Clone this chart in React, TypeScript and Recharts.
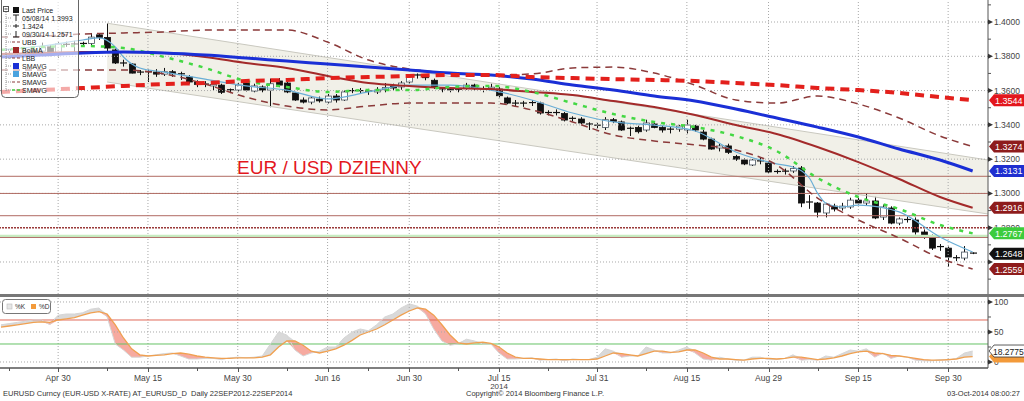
import React from 'react';
import { ComposedChart, Bar, Line, Area, XAxis, YAxis, ReferenceLine } from 'recharts';

// daily candles, index 0 = 21 Apr 2014 ... 119 = 03 Oct 2014
const opens = [
  1.3800, 1.3795, 1.3810, 1.3815, 1.3830, 1.3830, 1.3855, 1.3810, 1.3870, 1.3868,
  1.3872, 1.3875, 1.3925, 1.3910, 1.3837, 1.3761, 1.3755, 1.3702, 1.3710, 1.3708,
  1.3696, 1.3710, 1.3698, 1.3679, 1.3650, 1.3636, 1.3627, 1.3632, 1.3597, 1.3603,
  1.3644, 1.3597, 1.3621, 1.3603, 1.3656, 1.3644, 1.3586, 1.3545, 1.3533, 1.3550,
  1.3533, 1.3568, 1.3545, 1.3592, 1.3600, 1.3597, 1.3592, 1.3605, 1.3627, 1.3621,
  1.3650, 1.3691, 1.3685, 1.3660, 1.3610, 1.3603, 1.3605, 1.3615, 1.3632, 1.3610,
  1.3610, 1.3609, 1.3557, 1.3527, 1.3525, 1.3527, 1.3527, 1.3469, 1.3472, 1.3466,
  1.3430, 1.3434, 1.3405, 1.3398, 1.3385, 1.3430, 1.3417, 1.3372, 1.3385, 1.3370,
  1.3405, 1.3385, 1.3370, 1.3375, 1.3370, 1.3393, 1.3358, 1.3317, 1.3265, 1.3277,
  1.3215, 1.3195, 1.3166, 1.3190, 1.3177, 1.3125, 1.3128, 1.3131, 1.3148, 1.2944,
  1.2944, 1.2886, 1.2926, 1.2915, 1.2921, 1.2961, 1.2944, 1.2956, 1.2862, 1.2915,
  1.2827, 1.2845, 1.2845, 1.2775, 1.2746, 1.2687, 1.2681, 1.2625, 1.2623, 1.2652,
];
const highs = [
  1.3810, 1.3830, 1.3830, 1.3850, 1.3845, 1.3880, 1.3865, 1.3885, 1.3885, 1.3890,
  1.3885, 1.3936, 1.3935, 1.3993, 1.3845, 1.3780, 1.3760, 1.3720, 1.3722, 1.3725,
  1.3732, 1.3720, 1.3710, 1.3690, 1.3660, 1.3655, 1.3645, 1.3640, 1.3612, 1.3645,
  1.3650, 1.3640, 1.3630, 1.3670, 1.3673, 1.3650, 1.3590, 1.3560, 1.3565, 1.3565,
  1.3580, 1.3580, 1.3600, 1.3615, 1.3615, 1.3610, 1.3620, 1.3644, 1.3640, 1.3655,
  1.3695, 1.3700, 1.3695, 1.3670, 1.3615, 1.3620, 1.3630, 1.3645, 1.3640, 1.3625,
  1.3640, 1.3620, 1.3565, 1.3545, 1.3540, 1.3545, 1.3535, 1.3485, 1.3490, 1.3475,
  1.3450, 1.3445, 1.3415, 1.3410, 1.3445, 1.3440, 1.3425, 1.3390, 1.3395, 1.3430,
  1.3415, 1.3395, 1.3390, 1.3400, 1.3430, 1.3400, 1.3370, 1.3325, 1.3290, 1.3290,
  1.3225, 1.3205, 1.3200, 1.3210, 1.3185, 1.3140, 1.3145, 1.3160, 1.3160, 1.2990,
  1.2950, 1.2945, 1.2940, 1.2945, 1.2975, 1.2975, 1.3002, 1.2980, 1.2935, 1.2925,
  1.2860, 1.2865, 1.2860, 1.2790, 1.2760, 1.2705, 1.2690, 1.2640, 1.2693, 1.2656,
];
const lows = [
  1.3780, 1.3785, 1.3790, 1.3800, 1.3810, 1.3815, 1.3800, 1.3790, 1.3855, 1.3820,
  1.3855, 1.3865, 1.3895, 1.3830, 1.3755, 1.3740, 1.3700, 1.3690, 1.3650, 1.3680,
  1.3685, 1.3680, 1.3662, 1.3640, 1.3620, 1.3620, 1.3603, 1.3580, 1.3585, 1.3595,
  1.3595, 1.3590, 1.3590, 1.3503, 1.3620, 1.3585, 1.3540, 1.3525, 1.3520, 1.3530,
  1.3525, 1.3530, 1.3540, 1.3585, 1.3580, 1.3575, 1.3580, 1.3590, 1.3600, 1.3605,
  1.3640, 1.3670, 1.3660, 1.3610, 1.3590, 1.3590, 1.3590, 1.3605, 1.3600, 1.3590,
  1.3600, 1.3560, 1.3520, 1.3505, 1.3505, 1.3510, 1.3460, 1.3455, 1.3455, 1.3420,
  1.3420, 1.3405, 1.3370, 1.3380, 1.3370, 1.3410, 1.3365, 1.3335, 1.3350, 1.3360,
  1.3380, 1.3355, 1.3350, 1.3360, 1.3350, 1.3360, 1.3310, 1.3255, 1.3245, 1.3230,
  1.3190, 1.3165, 1.3160, 1.3170, 1.3120, 1.3115, 1.3110, 1.3120, 1.2920, 1.2910,
  1.2860, 1.2860, 1.2895, 1.2900, 1.2910, 1.2935, 1.2930, 1.2850, 1.2845, 1.2820,
  1.2815, 1.2830, 1.2760, 1.2735, 1.2670, 1.2665, 1.2571, 1.2605, 1.2610, 1.2646,
];
const closes = [
  1.3795, 1.3810, 1.3815, 1.3830, 1.3830, 1.3855, 1.3810, 1.3872, 1.3868, 1.3872,
  1.3875, 1.3912, 1.3910, 1.3848, 1.3761, 1.3758, 1.3702, 1.3708, 1.3708, 1.3696,
  1.3710, 1.3698, 1.3690, 1.3650, 1.3636, 1.3638, 1.3636, 1.3590, 1.3605, 1.3632,
  1.3603, 1.3627, 1.3603, 1.3640, 1.3632, 1.3592, 1.3545, 1.3533, 1.3557, 1.3540,
  1.3568, 1.3545, 1.3592, 1.3600, 1.3597, 1.3592, 1.3603, 1.3618, 1.3615, 1.3644,
  1.3691, 1.3685, 1.3675, 1.3621, 1.3603, 1.3605, 1.3608, 1.3632, 1.3615, 1.3610,
  1.3620, 1.3570, 1.3527, 1.3525, 1.3527, 1.3530, 1.3469, 1.3472, 1.3468, 1.3428,
  1.3438, 1.3411, 1.3398, 1.3392, 1.3430, 1.3420, 1.3370, 1.3380, 1.3360, 1.3411,
  1.3385, 1.3370, 1.3375, 1.3393, 1.3399, 1.3370, 1.3317, 1.3259, 1.3277, 1.3240,
  1.3200, 1.3172, 1.3195, 1.3183, 1.3125, 1.3128, 1.3130, 1.3145, 1.2944, 1.2950,
  1.2891, 1.2938, 1.2909, 1.2926, 1.2961, 1.2944, 1.2956, 1.2857, 1.2921, 1.2827,
  1.2851, 1.2848, 1.2775, 1.2746, 1.2681, 1.2690, 1.2629, 1.2623, 1.2658, 1.2648,
];

// studies, read as [day index, value]
const smavg200: [number, number][] = [
  [0, 1.3592], [5, 1.3603], [10, 1.3615], [15, 1.3627], [20, 1.3638], [25, 1.3644], [30, 1.3656],
  [35, 1.3662], [40, 1.3673], [45, 1.3679], [50, 1.3685], [55, 1.3691], [60, 1.3691], [65, 1.3679],
  [70, 1.3673], [75, 1.3667], [80, 1.3662], [85, 1.3656], [90, 1.3644], [95, 1.3632], [100, 1.3615],
  [105, 1.3603], [110, 1.3586], [115, 1.3562], [119, 1.3544],
];
const smavg100: [number, number][] = [
  [0, 1.3796], [5, 1.3807], [10, 1.3819], [15, 1.3825], [20, 1.3819], [25, 1.3807], [30, 1.3790],
  [35, 1.3772], [40, 1.3755], [45, 1.3737], [50, 1.3720], [55, 1.3702], [60, 1.3691], [65, 1.3667],
  [70, 1.3632], [75, 1.3603], [80, 1.3568], [85, 1.3539], [90, 1.3492], [95, 1.3440], [100, 1.3387],
  [105, 1.3329], [110, 1.3259], [115, 1.3195], [119, 1.3131],
];
const bolMA: [number, number][] = [
  [0, 1.3813], [5, 1.3819], [10, 1.3825], [15, 1.3825], [20, 1.3819], [25, 1.3796], [30, 1.3761],
  [35, 1.3732], [40, 1.3685], [45, 1.3644], [50, 1.3627], [55, 1.3615], [60, 1.3609], [65, 1.3592],
  [70, 1.3574], [75, 1.3539], [80, 1.3504], [85, 1.3457], [90, 1.3399], [95, 1.3347], [100, 1.3271],
  [105, 1.3183], [110, 1.3084], [115, 1.2979], [119, 1.2916],
];
const upperBand: [number, number][] = [
  [0, 1.3912], [5, 1.3918], [10, 1.3930], [15, 1.3936], [20, 1.3942], [25, 1.3953], [30, 1.3953],
  [35, 1.3953], [40, 1.3883], [45, 1.3778], [50, 1.3726], [55, 1.3702], [60, 1.3691], [65, 1.3697],
  [70, 1.3732], [75, 1.3737], [80, 1.3702], [85, 1.3632], [90, 1.3545], [95, 1.3527], [100, 1.3568],
  [105, 1.3522], [110, 1.3440], [115, 1.3335], [119, 1.3274],
];
const lowerBand: [number, number][] = [
  [0, 1.3720], [5, 1.3720], [10, 1.3720], [15, 1.3720], [20, 1.3697], [25, 1.3638], [30, 1.3562],
  [35, 1.3510], [40, 1.3487], [45, 1.3510], [50, 1.3527], [55, 1.3527], [60, 1.3527], [65, 1.3487],
  [70, 1.3417], [75, 1.3341], [80, 1.3306], [85, 1.3283], [90, 1.3253], [95, 1.3166], [100, 1.2973],
  [105, 1.2845], [110, 1.2740], [115, 1.2623], [119, 1.2559],
];
const smavgGreen: [number, number][] = [
  [0, 1.3837], [5, 1.3854], [10, 1.3860], [15, 1.3848], [20, 1.3796], [25, 1.3732], [30, 1.3656],
  [35, 1.3621], [40, 1.3592], [45, 1.3603], [50, 1.3603], [55, 1.3621], [60, 1.3627], [65, 1.3592],
  [70, 1.3527], [75, 1.3463], [80, 1.3417], [85, 1.3387], [90, 1.3335], [95, 1.3247], [100, 1.3090],
  [105, 1.2979], [110, 1.2909], [115, 1.2816], [119, 1.2767],
];
const smavgFast: [number, number][] = [
  [0, 1.3837], [5, 1.3860], [10, 1.3895], [12, 1.3907], [14, 1.3854], [15, 1.3796], [17, 1.3732],
  [20, 1.3708], [25, 1.3667], [30, 1.3627], [35, 1.3603], [40, 1.3551], [45, 1.3592], [50, 1.3632],
  [55, 1.3632], [60, 1.3603], [65, 1.3545], [70, 1.3469], [75, 1.3417], [80, 1.3399], [85, 1.3364],
  [90, 1.3242], [95, 1.3172], [97, 1.3154], [99, 1.3090], [100, 1.3002], [101, 1.2944], [103, 1.2921],
  [105, 1.2932], [110, 1.2892], [115, 1.2746], [119, 1.2658],
];

// trend channel drawn from the 8 May high
const channelTop: [number, number][] = [[13, 1.3993], [120.88, 1.3195]];
const channelBottom: [number, number][] = [[13, 1.3650], [120.88, 1.2880]];

const hLevels = [1.3100, 1.3000, 1.2870];
const dottedLevel = 1.2800;
const greenLevel = 1.2750;

// stochastic %K / %D
const stochK = [
  62, 64, 66, 68, 70, 70, 62, 78, 80, 80, 82, 88, 90, 75, 30, 20, 8, 8, 10, 12,
  14, 15, 10, 5, 5, 6, 6, 4, 7, 8, 7, 8, 10, 30, 50, 45, 20, 10, 15, 18,
  25, 25, 40, 50, 55, 52, 62, 75, 80, 90, 97, 93, 80, 55, 35, 28, 30, 38, 35, 30,
  30, 15, 5, 5, 6, 7, 3, 4, 5, 2, 5, 4, 4, 8, 22, 18, 8, 10, 10, 25,
  20, 15, 15, 20, 25, 15, 5, 3, 8, 5, 3, 3, 8, 8, 4, 4, 6, 12, 3, 4,
  3, 10, 8, 14, 20, 18, 22, 8, 15, 6, 10, 8, 3, 2, 2, 4, 3, 6, 15, 18.2775,
];
const stochD = [
  58, 60, 62, 64, 66, 67, 66, 70, 72, 74, 78, 82, 84, 80, 62, 40, 22, 12, 10, 11,
  12, 14, 15, 13, 10, 8, 7, 6, 6, 7, 7, 7, 8, 12, 25, 35, 35, 28, 18, 15,
  18, 22, 28, 36, 45, 50, 55, 62, 70, 78, 85, 90, 88, 78, 62, 45, 32, 30, 32, 33,
  31, 25, 15, 8, 6, 6, 5, 4, 4, 4, 4, 4, 4, 5, 10, 15, 14, 12, 10, 14,
  18, 18, 16, 17, 20, 20, 15, 8, 5, 5, 4, 3, 5, 6, 6, 5, 6, 8, 8, 6,
  4, 5, 7, 10, 14, 17, 18, 15, 14, 11, 10, 8, 6, 4, 3, 3, 4, 5, 8, 9,
];

const dateTicks = [7, 18, 29, 40, 50, 61, 73, 84, 94, 105, 116];
const dateLabels = ['Apr 30', 'May 15', 'May 30', 'Jun 16', 'Jun 30', 'Jul 15', 'Jul 31', 'Aug 15', 'Aug 29', 'Sep 15', 'Sep 30'];
const minorDateTicks = [1, 13, 24, 35, 45, 56, 67, 79, 89, 100, 111];

const priceTicks = [1.26, 1.28, 1.30, 1.32, 1.34, 1.36, 1.38, 1.40];
const minorPriceTicks = [1.25, 1.27, 1.29, 1.31, 1.33, 1.35, 1.37, 1.39, 1.41];
const lastValues = [1.3544, 1.3274, 1.3131, 1.2916, 1.2767, 1.2648, 1.2559];
const lastColors = ['#e3161d', '#8e1c1c', '#1f2fd0', '#8e1c1c', '#3ccc3c', '#111111', '#8e1c1c'];
// tick labels that sit fully under the last-value boxes
const coveredTicks = [1.26];

const stochTicks = [0, 50, 100];
const stochMinor = [25, 75];
const stochLast = [18.2775, 9];

const X_DOMAIN: [number, number] = [-0.12, 120.88];
const FONT = '"Liberation Sans", Arial, sans-serif';

type Row = { [k: string]: any };
const rows: Row[] = opens.map((o, i) => ({
  i, o, h: highs[i], l: lows[i], c: closes[i], range: [lows[i], highs[i]],
}));
rows.push({ i: 120.88 });

const attach = (key: string, pts: [number, number][]) => {
  pts.forEach(([i, v]) => {
    const r = rows.find((row) => row.i === i);
    if (r) r[key] = v;
  });
};
attach('s200', smavg200);
attach('s100', smavg100);
attach('bol', bolMA);
attach('ubb', upperBand);
attach('lbb', lowerBand);
attach('sg', smavgGreen);
attach('sf', smavgFast);
attach('chTop', channelTop);
attach('chBot', channelBottom);
rows.forEach((r) => {
  if (r.chTop != null) r.channel = [r.chBot, r.chTop];
});

const stochRows = stochK.map((k, i) => {
  const d = stochD[i];
  return { i, k, d, above: [d, Math.max(k, d)], below: [Math.min(k, d), d] };
});

const Candle = (props: any) => {
  const { x, y, width, height, payload } = props;
  if (!payload || payload.o == null) return null;
  const { o, h, l, c } = payload;
  const cx = Math.round(x + width / 2) + 0.5;
  const py = (v: number) => (h === l ? y : y + ((h - v) / (h - l)) * height);
  const top = py(Math.max(o, c));
  const bot = py(Math.min(o, c));
  const up = c >= o;
  return (
    <g>
      <line x1={cx} x2={cx} y1={y} y2={y + height} stroke="#111" strokeWidth={1} />
      {bot - top < 1.5 ? (
        <line x1={cx - 3.5} x2={cx + 3.5} y1={top} y2={top} stroke="#111" strokeWidth={1.2} />
      ) : (
        <rect
          x={cx - 3}
          y={top}
          width={6}
          height={bot - top}
          fill={up ? '#ffffff' : '#111111'}
          stroke={up ? '#4a5560' : '#111111'}
          strokeWidth={0.8}
        />
      )}
    </g>
  );
};

const boxPath = (x: number, y: number) =>
  `M${x + 1},${y} L${x + 6},${y - 6} L${x + 37},${y - 6} L${x + 37},${y + 6} L${x + 6},${y + 6} Z`;

const PriceTick = (props: any) => {
  const { x, y, payload } = props;
  const v = payload.value;
  const li = lastValues.indexOf(v);
  if (li >= 0) {
    return (
      <g>
        <path d={boxPath(x, y)} fill={lastColors[li]} />
        <text x={x + 7} y={y + 3.5} fontSize={9} fill="#fff" fontFamily={FONT}>
          {v.toFixed(4)}
        </text>
      </g>
    );
  }
  if (minorPriceTicks.includes(v)) {
    return <line x1={x} x2={x + 3} y1={y} y2={y} stroke="#555" />;
  }
  return (
    <g>
      <path d={`M${x},${y - 2.5} L${x + 5},${y} L${x},${y + 2.5} Z`} fill="#333" />
      {!coveredTicks.includes(v) && (
        <text x={x + 6} y={y + 3} fontSize={8.5} fill="#444" fontFamily={FONT}>
          {v.toFixed(4)}
        </text>
      )}
    </g>
  );
};

const StochTick = (props: any) => {
  const { x, y, payload } = props;
  const v = payload.value;
  const li = stochLast.indexOf(v);
  if (li === 0) {
    return (
      <g>
        <path d={boxPath(x, y)} fill="#fff" stroke="#333" strokeWidth={0.8} />
        <text x={x + 5} y={y + 3.5} fontSize={8.5} fill="#222" fontFamily={FONT}>
          {v.toFixed(4)}
        </text>
      </g>
    );
  }
  if (li === 1) {
    return <path d={boxPath(x, y)} fill="#f39a3a" />;
  }
  if (stochMinor.includes(v)) {
    return <line x1={x} x2={x + 3} y1={y} y2={y} stroke="#555" />;
  }
  return (
    <g>
      <path d={`M${x},${y - 2.5} L${x + 5},${y} L${x},${y + 2.5} Z`} fill="#333" />
      <text x={x + 6} y={y + 3} fontSize={8.5} fill="#444" fontFamily={FONT}>
        {v}
      </text>
    </g>
  );
};

const DateTick = (props: any) => {
  const { x, y, payload } = props;
  const li = dateTicks.indexOf(payload.value);
  const px = Math.round(x) + 0.5;
  if (li < 0) return <line x1={px} x2={px} y1={y} y2={y + 3} stroke="#555" />;
  return (
    <g>
      <line x1={px} x2={px} y1={y} y2={y + 4} stroke="#555" />
      <text x={x} y={y + 13} textAnchor="middle" fontSize={8.5} fill="#444" fontFamily={FONT}>
        {dateLabels[li]}
      </text>
      {dateLabels[li] === 'Jul 15' && (
        <text x={x} y={y + 20.5} textAnchor="middle" fontSize={8} fill="#444" fontFamily={FONT}>
          2014
        </text>
      )}
    </g>
  );
};

const legendRows = [
  'Last Price', '05/08/14 1.3993', '1.3424', '09/30/14 1.2571', 'UBB', 'BolMA', 'LBB',
  'SMAVG', 'SMAVG', 'SMAVG', 'SMAVG',
];

const LegendIcon = ({ k, y }: { k: number; y: number }) => {
  switch (k) {
    case 0:
      return <rect x={13} y={y - 3} width={6} height={6} fill="#111" />;
    case 1:
      return <path d={`M13,${y - 3} H19 M16,${y - 3} V${y + 3}`} stroke="#222" strokeWidth={1} />;
    case 2:
      return <path d={`M13,${y} H19 M16,${y - 2} V${y + 2}`} stroke="#222" strokeWidth={1} />;
    case 3:
      return <path d={`M13,${y + 3} H19 M16,${y - 3} V${y + 3}`} stroke="#222" strokeWidth={1} />;
    case 4:
    case 6:
      return <path d={`M12,${y} H15 M17,${y} H20`} stroke="#8b3a3a" strokeWidth={1.2} />;
    case 5:
      return <rect x={13} y={y - 3} width={6} height={6} fill="#a02828" />;
    case 7:
      return <rect x={13} y={y - 3} width={6} height={6} fill="#1a2fd6" />;
    case 8:
      return <rect x={13} y={y - 3} width={6} height={6} fill="#4aa3df" />;
    case 9:
      return <path d={`M12,${y} H15 M17,${y} H20`} stroke="#8b3a3a" strokeWidth={1} />;
    default:
      return <path d={`M12,${y} H15 M17,${y} H20`} stroke="#3ccc3c" strokeWidth={1.5} />;
  }
};

const maLines = [
  { key: 'sf', stroke: '#6aaed6', width: 1.2, dash: undefined },
  { key: 'ubb', stroke: '#8b3a3a', width: 1.5, dash: '7 5' },
  { key: 'lbb', stroke: '#8b3a3a', width: 1.5, dash: '7 5' },
  { key: 'bol', stroke: '#a32a2a', width: 2, dash: undefined },
  { key: 'sg', stroke: '#44d844', width: 2.5, dash: '4 6' },
  { key: 's100', stroke: '#1a2fd6', width: 3, dash: undefined },
  { key: 's200', stroke: '#e3201c', width: 4, dash: '9 6' },
];

export default function App() {
  return (
    <div
      style={{
        position: 'absolute',
        left: 0,
        top: 0,
        width: 1024,
        height: 401,
        background: '#fff',
        overflow: 'hidden',
        fontFamily: FONT,
      }}
    >
      {/* price panel */}
      <div style={{ position: 'absolute', left: 0, top: 0 }}>
        <ComposedChart width={1024} height={295} data={rows} margin={{ top: 0, right: 0, bottom: 1, left: 0 }}>
          <XAxis type="number" dataKey="i" domain={X_DOMAIN} allowDataOverflow hide />
          <YAxis
            orientation="right"
            width={36}
            domain={[1.24133, 1.41284]}
            allowDataOverflow
            ticks={[...priceTicks, ...minorPriceTicks, ...lastValues]}
            interval={0}
            tick={<PriceTick />}
            tickLine={false}
            tickSize={0}
            tickMargin={0}
            axisLine={{ stroke: '#555' }}
          />
          <Area
            dataKey="channel"
            type="linear"
            connectNulls
            fill="#efede4"
            fillOpacity={0.85}
            stroke="none"
            isAnimationActive={false}
          />
          <Line dataKey="chTop" type="linear" connectNulls stroke="#c9c8bf" strokeWidth={1} dot={false} isAnimationActive={false} />
          <Line dataKey="chBot" type="linear" connectNulls stroke="#c9c8bf" strokeWidth={1} dot={false} isAnimationActive={false} />
          {priceTicks.map((v) => (
            <ReferenceLine key={'g' + v} y={v} stroke="#a8a8a8" strokeDasharray="1 2" />
          ))}
          {dateTicks.map((v) => (
            <ReferenceLine key={'v' + v} x={v} stroke="#a8a8a8" strokeDasharray="1 2" />
          ))}
          {hLevels.map((v) => (
            <ReferenceLine key={'h' + v} y={v} stroke="#b06a62" strokeWidth={1} />
          ))}
          <ReferenceLine y={dottedLevel} stroke="#9b3a3a" strokeWidth={1.5} strokeDasharray="2 1" />
          <ReferenceLine y={greenLevel} stroke="#c7ecc0" strokeWidth={3} />
          <ReferenceLine y={greenLevel - 0.0007} stroke="#b0706a" strokeWidth={1} />
          <Bar dataKey="range" barSize={6} shape={<Candle />} isAnimationActive={false} />
          {maLines.map((m) => (
            <Line
              key={m.key}
              dataKey={m.key}
              type="monotone"
              connectNulls
              stroke={m.stroke}
              strokeWidth={m.width}
              strokeDasharray={m.dash}
              dot={false}
              isAnimationActive={false}
            />
          ))}
        </ComposedChart>
      </div>

      <div
        style={{
          position: 'absolute',
          left: 237,
          top: 157,
          color: '#e3161d',
          fontSize: 19,
          whiteSpace: 'nowrap',
        }}
      >
        EUR / USD DZIENNY
      </div>

      {/* legend */}
      <svg style={{ position: 'absolute', left: 0, top: 0 }} width={82} height={100}>
        <rect x={1.5} y={-4} width={77} height={101.5} rx={4} fill="#fff" fillOpacity={0.62} stroke="#666" />
        <rect x={3.5} y={6.5} width={5} height={5} fill="#fff" stroke="#555" />
        <line x1={4.5} x2={7.5} y1={9} y2={9} stroke="#333" />
        <line x1={6} x2={6} y1={12} y2={91} stroke="#999" strokeDasharray="1 1" />
        {legendRows.map((t, k) => {
          const y = 10 + 8 * k;
          return (
            <g key={k}>
              {k > 0 && <line x1={6} x2={11} y1={y} y2={y} stroke="#999" strokeDasharray="1 1" />}
              <LegendIcon k={k} y={y} />
              <text x={22} y={y + 2.5} fontSize={7} fill="#222" fontFamily={FONT}>
                {t}
              </text>
            </g>
          );
        })}
      </svg>

      <div style={{ position: 'absolute', left: 0, top: 294, width: 1024, height: 3, background: '#777' }} />

      {/* stochastic panel */}
      <div style={{ position: 'absolute', left: 0, top: 297 }}>
        <ComposedChart width={1024} height={95} data={stochRows} margin={{ top: 0, right: 0, bottom: 0, left: 0 }}>
          <XAxis
            type="number"
            dataKey="i"
            domain={X_DOMAIN}
            allowDataOverflow
            height={24}
            ticks={[...dateTicks, ...minorDateTicks]}
            interval={0}
            tick={<DateTick />}
            tickLine={false}
            tickSize={0}
            tickMargin={0}
            axisLine={{ stroke: '#555', strokeWidth: 1.5 }}
          />
          <YAxis
            orientation="right"
            width={36}
            domain={[-10, 108.3]}
            allowDataOverflow
            ticks={[...stochTicks, ...stochMinor, stochLast[1], stochLast[0]]}
            interval={0}
            tick={<StochTick />}
            tickLine={false}
            tickSize={0}
            tickMargin={0}
            axisLine={{ stroke: '#555' }}
          />
          {stochTicks.map((v) => (
            <ReferenceLine key={'sg' + v} y={v} stroke="#a8a8a8" strokeDasharray="1 2" />
          ))}
          {dateTicks.map((v) => (
            <ReferenceLine key={'sv' + v} x={v} stroke="#a8a8a8" strokeDasharray="1 2" />
          ))}
          <ReferenceLine y={70} stroke="#e06a5a" strokeWidth={1} />
          <ReferenceLine y={30} stroke="#66c266" strokeWidth={1} />
          <Area dataKey="above" type="linear" fill="#d9d9d9" fillOpacity={1} stroke="none" isAnimationActive={false} />
          <Area dataKey="below" type="linear" fill="#f6aaa0" fillOpacity={1} stroke="none" isAnimationActive={false} />
          <Line dataKey="k" type="linear" stroke="#d6d6d6" strokeWidth={1} dot={false} isAnimationActive={false} />
          <Line dataKey="d" type="linear" stroke="#f0a050" strokeWidth={1.3} dot={false} isAnimationActive={false} />
        </ComposedChart>
      </div>

      <svg style={{ position: 'absolute', left: 0, top: 297 }} width={60} height={20}>
        <rect x={2.5} y={2.5} width={48} height={14} rx={3} fill="#fff" stroke="#777" />
        <rect x={7} y={7} width={5} height={5} fill="#e6e6e6" stroke="#bbb" strokeWidth={0.6} />
        <text x={15} y={12} fontSize={6.5} fill="#333" fontFamily={FONT}>%K</text>
        <rect x={31} y={7} width={5} height={5} fill="#f39a3a" />
        <text x={39} y={12} fontSize={6.5} fill="#333" fontFamily={FONT}>%D</text>
      </svg>

      {/* footer */}
      <div style={{ position: 'absolute', left: 3, top: 389, fontSize: 7.5, color: '#333', whiteSpace: 'pre' }}>
        {'EURUSD Curncy (EUR-USD X-RATE) AT_EURUSD_D  Daily 22SEP2012-22SEP2014'}
      </div>
      <div style={{ position: 'absolute', left: 466, top: 389, fontSize: 7.5, color: '#333', whiteSpace: 'pre' }}>
        {'Copyright\u00a9 2014 Bloomberg Finance L.P.'}
      </div>
      <div style={{ position: 'absolute', right: 4, top: 389, fontSize: 7.5, color: '#333', whiteSpace: 'pre' }}>
        {'03-Oct-2014 08:00:27'}
      </div>
    </div>
  );
}
